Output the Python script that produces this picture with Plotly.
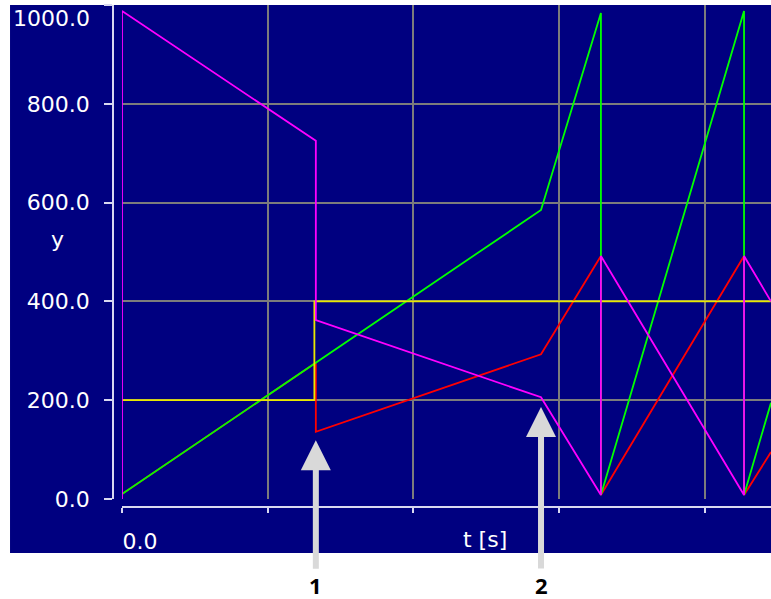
import plotly.graph_objects as go

# Signal traces (t in grid units, y in value units)
t_red = [0, 1.33, 1.33, 2.875, 3.286, 3.286, 4.268, 4.268, 4.453]
y_red = [10, 276, 136, 293, 492, 8, 492, 8, 95]

t_green = [0, 2.875, 3.286, 3.286, 4.268, 4.268, 4.453]
y_green = [10, 585, 984, 8, 988, 8, 195]

t_yellow = [0, 1.32, 1.32, 4.453]
y_yellow = [200, 200, 400, 400]

t_magenta = [0, 0, 1.33, 1.33, 2.875, 3.286, 3.286, 4.268, 4.268, 4.453]
y_magenta = [0, 988, 725, 362, 206, 8, 492, 8, 492, 400]

x_ticks = [0, 1, 2, 3, 4]
x_ticktext = ["0.0", "", "", "", ""]
y_ticks = [0, 200, 400, 600, 800, 1000]
y_ticktext = ["0.0", "200.0", "400.0", "600.0", "800.0", ""]

# Callout arrows: (t, y of tip, label, arrow length in px)
markers = [(1.33, 119, "1", 145), (2.875, 186, "2", 178)]

NAVY = '#000080'
AXIS = '#d8d8f0'
GRID = '#7c7c7c'
TICK_FONT = dict(family='DejaVu Sans', size=22, color='white')

fig = go.Figure()
for t, y, color in [
    (t_red, y_red, '#ff0000'),
    (t_green, y_green, '#00ff00'),
    (t_yellow, y_yellow, '#e8e800'),
    (t_magenta, y_magenta, '#ff00ff'),
]:
    fig.add_trace(go.Scatter(x=t, y=y, mode='lines',
                             line=dict(color=color, width=1.8),
                             showlegend=False, hoverinfo='skip'))

# navy panel behind everything
fig.add_shape(type='rect', xref='paper', yref='paper',
              x0=-0.1565, x1=1, y0=-0.0916, y1=1,
              fillcolor=NAVY, line_width=0, layer='below')

annotations = [
    dict(text='1000.0', xref='paper', yref='paper', x=-0.0319, y=0.974,
         xanchor='right', yanchor='middle', showarrow=False, font=TICK_FONT),
    dict(text='y', xref='paper', yref='paper', x=-0.0851, y=0.532,
         xanchor='center', yanchor='middle', showarrow=False, font=TICK_FONT),
    dict(text='t [s]', xref='paper', yref='paper', x=0.5653, y=-0.0657,
         xanchor='center', yanchor='middle', showarrow=False, font=TICK_FONT),
]
for t, y, label, length in markers:
    annotations.append(dict(
        text=f'<b>{label}</b>', x=t, y=y, xref='x', yref='y',
        ax=0, ay=length, axref='pixel', ayref='pixel',
        showarrow=True, arrowhead=2, arrowsize=1, arrowwidth=6,
        arrowcolor='#d9d9d9', font=dict(family='Open Sans', size=22, color='black'),
    ))

fig.update_layout(
    width=771, height=599,
    margin=dict(l=113, r=0, t=5, b=92),
    paper_bgcolor='white',
    plot_bgcolor=NAVY,
    annotations=annotations,
    xaxis=dict(
        domain=[9 / 658, 1], anchor='free', position=0,
        range=[0, 4.453], tickvals=x_ticks, ticktext=x_ticktext,
        ticks='outside', ticklen=5, tickcolor=AXIS, tickwidth=1.5,
        showline=True, linecolor=AXIS, linewidth=1.5,
        showgrid=True, gridcolor=GRID, gridwidth=2, zeroline=False,
        tickfont=TICK_FONT, ticklabelshift=18, ticklabelstandoff=10,
    ),
    yaxis=dict(
        domain=[8 / 502, 1], anchor='free', position=0,
        range=[0, 1000], tickvals=y_ticks, ticktext=y_ticktext,
        ticks='outside', ticklen=8, tickcolor=AXIS, tickwidth=1.5,
        showline=True, linecolor=AXIS, linewidth=1.5,
        showgrid=True, gridcolor=GRID, gridwidth=2, zeroline=False,
        tickfont=TICK_FONT, ticklabelstandoff=10,
    ),
)

# drop the browser's default page margin so the figure sits at the corner
fig.write_html("out.html", config={'displayModeBar': False},
               post_script="document.body.style.margin='0';")
